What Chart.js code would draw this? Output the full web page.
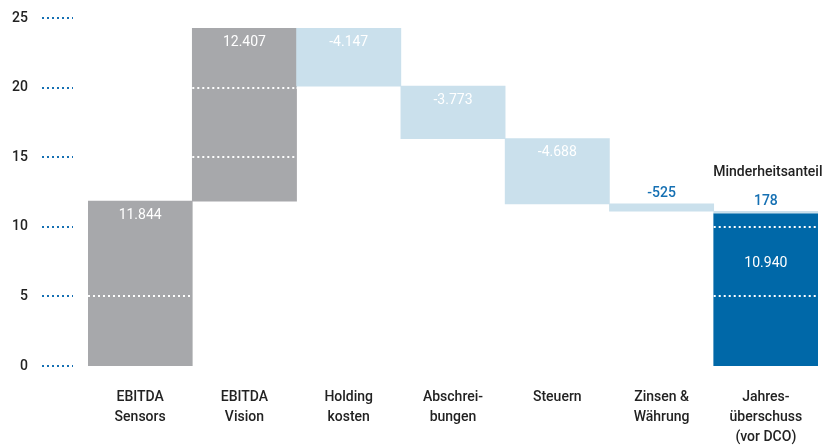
<!DOCTYPE html>
<html>
<head>
<meta charset="utf-8">
<script src="https://cdn.jsdelivr.net/npm/chart.js@4.4.1/dist/chart.umd.min.js"></script>
<style>
  html, body { margin: 0; padding: 0; background: #fff; }
  #wrap { width: 827px; height: 445px; }
</style>
</head>
<body>
<div id="wrap"><canvas id="myChart"></canvas></div>
<script>
// Data (in thousand)
const categories = [
    ['EBITDA', 'Sensors'],
    ['EBITDA', 'Vision'],
    ['Holding', 'kosten'],
    ['Abschrei-', 'bungen'],
    ['Steuern'],
    ['Zinsen &', 'Währung'],
    ['Jahres-', 'überschuss', '(vor DCO)']
];
const steps = [11844, 12407, -4147, -3773, -4688, -525];
const minority = 178;
const result = 10940;
const yTicks = [0, 5, 10, 15, 20, 25];

// Colors
const gray = '#a7a8ab';
const lightBlue = '#cae0ec';
const darkBlue = '#0068a8';
const textBlue = '#1570b3';

// build floating bars from the running total
let running = 0;
const floats = [];
const colors = [];
steps.forEach((v, i) => {
    const start = running;
    running += v;
    floats.push([Math.min(start, running) / 1000, Math.max(start, running) / 1000]);
    colors.push(i < 2 ? gray : lightBlue);
});
floats.push([0, result / 1000]);
colors.push(darkBlue);
const minorityBar = categories.map((c, i) => i === categories.length - 1 ? [result / 1000, (result + minority) / 1000] : null);
const labelValues = [...steps, result];

const fmt = v => v.toLocaleString('de-DE');

// where the value label of a bar sits (pixel y)
function labelY(i, top) {
    if (i === 5) return top - 10;
    if (i === 6) return top + 50;
    return top + 14;
}

// white dotted grid over the bars, blue dotted tick marks
const gridOnBars = {
    id: 'gridOnBars',
    afterDatasetsDraw(chart) {
        const ctx = chart.ctx;
        const y = chart.scales.y;
        const meta = chart.getDatasetMeta(0);
        ctx.save();
        ctx.strokeStyle = '#fff';
        ctx.lineWidth = 2;
        ctx.setLineDash([2, 3]);
        meta.data.forEach((bar, i) => {
            const [lo, hi] = floats[i];
            const top = Math.min(bar.y, bar.base);
            yTicks.forEach(t => {
                if (t <= 0 || t < lo - 0.2 || t > hi - 0.2) return;
                const py = Math.round(y.getPixelForValue(t));
                if (Math.abs(py - labelY(i, top)) < 20) return;
                ctx.beginPath();
                ctx.moveTo(bar.x - bar.width / 2, py);
                ctx.lineTo(bar.x + bar.width / 2, py);
                ctx.stroke();
            });
        });

        ctx.strokeStyle = textBlue;
        yTicks.forEach(t => {
            const py = Math.round(y.getPixelForValue(t));
            ctx.beginPath();
            ctx.moveTo(y.right - 46, py);
            ctx.lineTo(y.right - 15, py);
            ctx.stroke();
        });
        ctx.restore();
    }
};

// value labels
const valueLabels = {
    id: 'valueLabels',
    afterDraw(chart) {
        const ctx = chart.ctx;
        const meta = chart.getDatasetMeta(0);
        ctx.save();
        ctx.textAlign = 'center';
        ctx.textBaseline = 'middle';
        meta.data.forEach((bar, i) => {
            const top = Math.min(bar.y, bar.base);
            if (i === 5) {
                ctx.fillStyle = textBlue;
                ctx.font = '500 14px Roboto';
            } else {
                ctx.fillStyle = '#fff';
                ctx.font = '14px Roboto';
            }
            ctx.fillText(fmt(labelValues[i]), bar.x, labelY(i, top));
        });
        const mBar = chart.getDatasetMeta(1).data[6];
        const mTop = Math.min(mBar.y, mBar.base);
        ctx.fillStyle = textBlue;
        ctx.font = '500 14px Roboto';
        ctx.fillText(fmt(minority), mBar.x, mTop - 10);
        ctx.fillStyle = '#222';
        ctx.font = '500 14px Roboto';
        ctx.fillText('Minderheitsanteil', mBar.x + 2, mTop - 39);
        ctx.restore();
    }
};

const chart = new Chart(document.getElementById('myChart'), {
    type: 'bar',
    data: {
        labels: categories,
        datasets: [{
            data: floats,
            backgroundColor: colors,
            borderWidth: 0,
            barPercentage: 1,
            categoryPercentage: 1
        }, {
            data: minorityBar,
            backgroundColor: lightBlue,
            borderWidth: 0,
            barPercentage: 1,
            categoryPercentage: 1,
            grouped: false
        }]
    },
    options: {
        responsive: true,
        maintainAspectRatio: false,
        animation: false,
        layout: { padding: { top: 18, right: 9, left: 0, bottom: 0 } },
        plugins: { legend: { display: false }, tooltip: { enabled: false } },
        scales: {
            x: {
                afterFit(scale) { scale.height = 79; },
                grid: { display: false, drawTicks: false },
                border: { display: false },
                ticks: {
                    color: '#222',
                    font: { family: 'Roboto', size: 14, weight: '500', lineHeight: 1.4 },
                    padding: 22,
                    maxRotation: 0
                }
            },
            y: {
                min: 0,
                max: 25,
                afterFit(scale) {
                    scale.width = 88;
                    scale.paddingTop = 8;
                    scale.paddingBottom = 8;
                },
                afterBuildTicks(scale) { scale.ticks = yTicks.map(v => ({ value: v })); },
                grid: { display: false, drawTicks: false },
                border: { display: false },
                ticks: {
                    color: '#222',
                    font: { family: 'Roboto', size: 14, weight: '500' },
                    padding: 60
                }
            }
        }
    },
    plugins: [gridOnBars, valueLabels]
});
</script>
</body>
</html>
